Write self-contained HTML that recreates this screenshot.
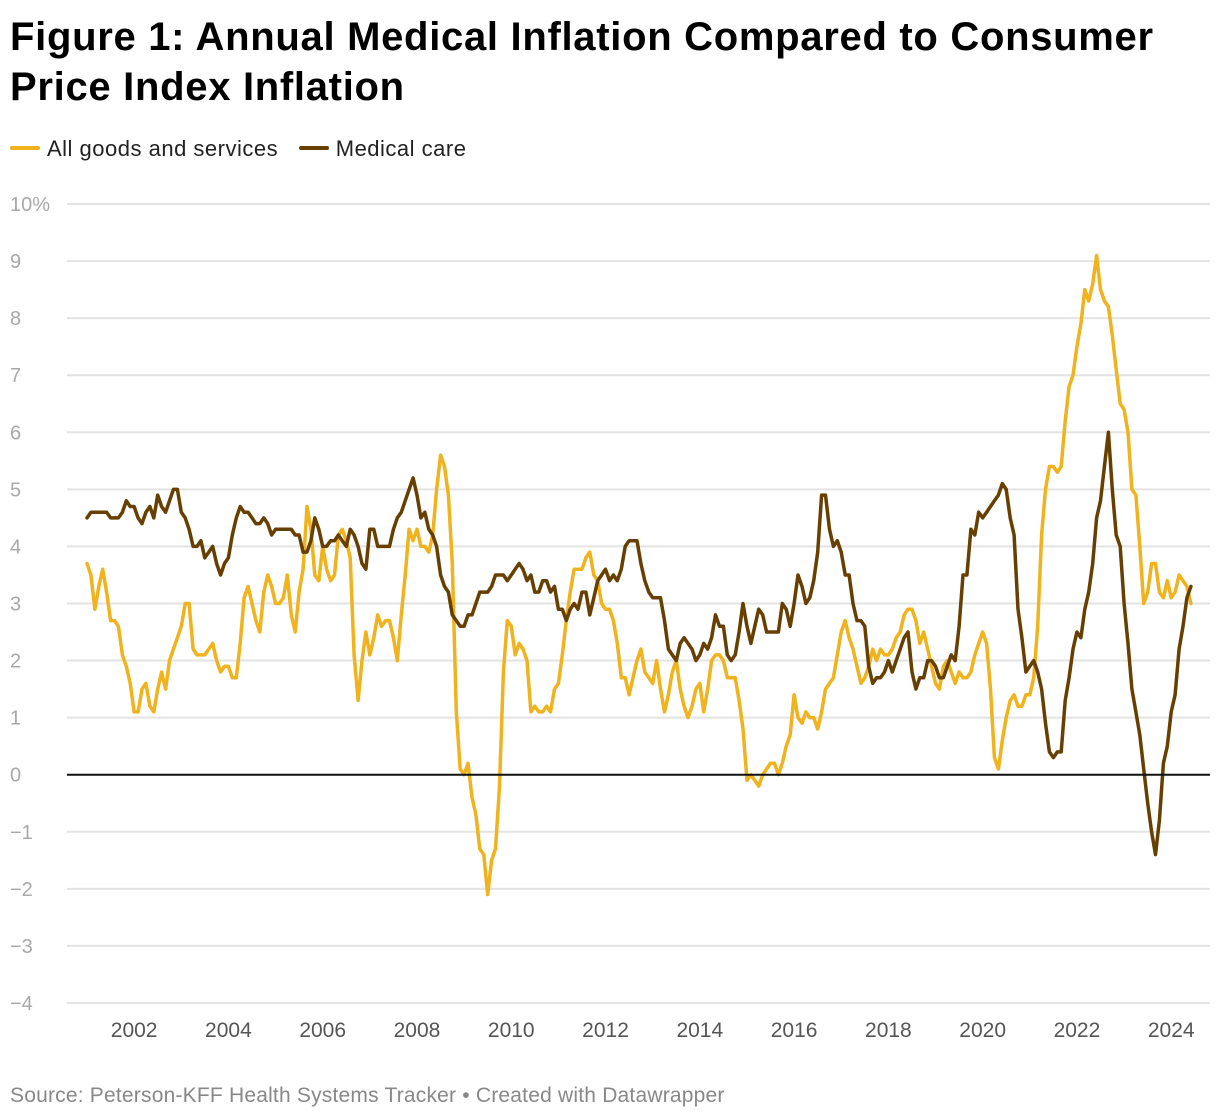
<!DOCTYPE html>
<html><head><meta charset="utf-8"><style>
body{margin:0;background:#fff;width:1220px;height:1120px;overflow:hidden;font-family:"Liberation Sans",sans-serif;}
#title{position:absolute;left:10px;top:12px;width:1180px;font-size:40px;font-weight:bold;line-height:50px;color:#000;letter-spacing:0.7px;}
#legend{position:absolute;left:10px;top:136px;font-size:22px;color:#222;letter-spacing:0.5px;}
.le{display:inline-block;margin-right:14px;}
.sw{display:inline-block;width:30px;height:4px;border-radius:2px;vertical-align:middle;margin-right:7px;position:relative;top:-2px;}
#source{position:absolute;left:10px;top:1084px;font-size:21px;color:#888;letter-spacing:0.2px;}
svg{position:absolute;left:0;top:0;}
</style></head><body>
<div id="title">Figure 1: Annual Medical Inflation Compared to Consumer Price Index Inflation</div>
<div id="legend">
<span class="le"><span class="sw" style="background:#f0b31d"></span>All goods and services</span>
<span class="le"><span class="sw" style="background:#673f00"></span>Medical care</span>
</div>
<svg id="chart" width="1220" height="1120"></svg>
<div id="source">Source: Peterson-KFF Health Systems Tracker • Created with Datawrapper</div>
<script>
const startYear = 2001;
const yTicks = [-4,-3,-2,-1,0,1,2,3,4,5,6,7,8,9,10];
const xTicks = [2002,2004,2006,2008,2010,2012,2014,2016,2018,2020,2022,2024];
const allGoods = [
3.7,3.5,2.9,3.3,3.6,3.2,2.7,2.7,2.6,2.1,1.9,1.6,
1.1,1.1,1.5,1.6,1.2,1.1,1.5,1.8,1.5,2.0,2.2,2.4,
2.6,3.0,3.0,2.2,2.1,2.1,2.1,2.2,2.3,2.0,1.8,1.9,
1.9,1.7,1.7,2.3,3.1,3.3,3.0,2.7,2.5,3.2,3.5,3.3,
3.0,3.0,3.1,3.5,2.8,2.5,3.2,3.6,4.7,4.3,3.5,3.4,
4.0,3.6,3.4,3.5,4.2,4.3,4.1,3.8,2.1,1.3,2.0,2.5,
2.1,2.4,2.8,2.6,2.7,2.7,2.4,2.0,2.8,3.5,4.3,4.1,
4.3,4.0,4.0,3.9,4.2,5.0,5.6,5.4,4.9,3.7,1.1,0.1,
0.0,0.2,-0.4,-0.7,-1.3,-1.4,-2.1,-1.5,-1.3,-0.2,1.8,2.7,
2.6,2.1,2.3,2.2,2.0,1.1,1.2,1.1,1.1,1.2,1.1,1.5,
1.6,2.1,2.7,3.2,3.6,3.6,3.6,3.8,3.9,3.5,3.4,3.0,
2.9,2.9,2.7,2.3,1.7,1.7,1.4,1.7,2.0,2.2,1.8,1.7,
1.6,2.0,1.5,1.1,1.4,1.8,2.0,1.5,1.2,1.0,1.2,1.5,
1.6,1.1,1.5,2.0,2.1,2.1,2.0,1.7,1.7,1.7,1.3,0.8,
-0.1,0.0,-0.1,-0.2,0.0,0.1,0.2,0.2,0.0,0.2,0.5,0.7,
1.4,1.0,0.9,1.1,1.0,1.0,0.8,1.1,1.5,1.6,1.7,2.1,
2.5,2.7,2.4,2.2,1.9,1.6,1.7,1.9,2.2,2.0,2.2,2.1,
2.1,2.2,2.4,2.5,2.8,2.9,2.9,2.7,2.3,2.5,2.2,1.9,
1.6,1.5,1.9,2.0,1.8,1.6,1.8,1.7,1.7,1.8,2.1,2.3,
2.5,2.3,1.5,0.3,0.1,0.6,1.0,1.3,1.4,1.2,1.2,1.4,
1.4,1.7,2.6,4.2,5.0,5.4,5.4,5.3,5.4,6.2,6.8,7.0,
7.5,7.9,8.5,8.3,8.6,9.1,8.5,8.3,8.2,7.7,7.1,6.5,
6.4,6.0,5.0,4.9,4.0,3.0,3.2,3.7,3.7,3.2,3.1,3.4,
3.1,3.2,3.5,3.4,3.3,3.0];
const medical = [
4.5,4.6,4.6,4.6,4.6,4.6,4.5,4.5,4.5,4.6,4.8,4.7,
4.7,4.5,4.4,4.6,4.7,4.5,4.9,4.7,4.6,4.8,5.0,5.0,
4.6,4.5,4.3,4.0,4.0,4.1,3.8,3.9,4.0,3.7,3.5,3.7,
3.8,4.2,4.5,4.7,4.6,4.6,4.5,4.4,4.4,4.5,4.4,4.2,
4.3,4.3,4.3,4.3,4.3,4.2,4.2,3.9,3.9,4.1,4.5,4.3,
4.0,4.0,4.1,4.1,4.2,4.1,4.0,4.3,4.2,4.0,3.7,3.6,
4.3,4.3,4.0,4.0,4.0,4.0,4.3,4.5,4.6,4.8,5.0,5.2,
4.9,4.5,4.6,4.3,4.2,4.0,3.5,3.3,3.2,2.8,2.7,2.6,
2.6,2.8,2.8,3.0,3.2,3.2,3.2,3.3,3.5,3.5,3.5,3.4,
3.5,3.6,3.7,3.6,3.4,3.5,3.2,3.2,3.4,3.4,3.2,3.3,
2.9,2.9,2.7,2.9,3.0,2.9,3.2,3.2,2.8,3.1,3.4,3.5,
3.6,3.4,3.5,3.4,3.6,4.0,4.1,4.1,4.1,3.7,3.4,3.2,
3.1,3.1,3.1,2.7,2.2,2.1,2.0,2.3,2.4,2.3,2.2,2.0,
2.1,2.3,2.2,2.4,2.8,2.6,2.6,2.1,2.0,2.1,2.5,3.0,
2.6,2.3,2.6,2.9,2.8,2.5,2.5,2.5,2.5,3.0,2.9,2.6,
3.0,3.5,3.3,3.0,3.1,3.4,3.9,4.9,4.9,4.3,4.0,4.1,
3.9,3.5,3.5,3.0,2.7,2.7,2.6,1.9,1.6,1.7,1.7,1.8,
2.0,1.8,2.0,2.2,2.4,2.5,1.8,1.5,1.7,1.7,2.0,2.0,
1.9,1.7,1.7,1.9,2.1,2.0,2.6,3.5,3.5,4.3,4.2,4.6,
4.5,4.6,4.7,4.8,4.9,5.1,5.0,4.5,4.2,2.9,2.4,1.8,
1.9,2.0,1.8,1.5,0.9,0.4,0.3,0.4,0.4,1.3,1.7,2.2,
2.5,2.4,2.9,3.2,3.7,4.5,4.8,5.4,6.0,5.0,4.2,4.0,
3.0,2.3,1.5,1.1,0.7,0.1,-0.5,-1.0,-1.4,-0.8,0.2,0.5,
1.1,1.4,2.2,2.6,3.1,3.3];

const NS='http://www.w3.org/2000/svg';
const svg=document.getElementById('chart');
const X0=87, PX_PER_YEAR=47.14, Y0=774.7, PX_PER_UNIT=57.07;
function xYear(y){return X0+(y-startYear)*PX_PER_YEAR;}
function xIdx(i){return xYear(startYear+i/12);}
function yVal(v){return Y0-v*PX_PER_UNIT;}
function mk(tag,attrs){const e=document.createElementNS(NS,tag);for(const k in attrs)e.setAttribute(k,attrs[k]);svg.appendChild(e);return e;}

yTicks.forEach(t=>{
  const y=yVal(t);
  if(t!==0){
    const g=mk('line',{x1:67,x2:1210,y1:y,y2:y,stroke:'#e3e3e3','stroke-width':2});
    
    
  }
  const tx=mk('text',{x:10,y:y+7,fill:'#a8a8a8','font-size':20,'font-family':'Liberation Sans, sans-serif'});
  tx.textContent = t===10 ? '10%' : (t<0 ? '\u2212'+(-t) : String(t));
  
  
});
xTicks.forEach(t=>{
  const tx=mk('text',{x:xYear(t),y:1037,fill:'#555','font-size':21,'text-anchor':'middle','font-family':'Liberation Sans, sans-serif'});
  tx.textContent=String(t);
  
  
});
function series(vals,color,name){
  const d=vals.map((v,i)=>(i?'L':'M')+xIdx(i).toFixed(1)+','+yVal(v).toFixed(1)).join('');
  const p=mk('path',{d:d,fill:'none',stroke:color,'stroke-width':3.5,'stroke-linejoin':'round','stroke-linecap':'round'});
  
  
}
series(allGoods,'#f0b31d','line-all-goods');
series(medical,'#673f00','line-medical-care');
const z=mk('line',{x1:67,x2:1210,y1:Y0,y2:Y0,stroke:'#111','stroke-width':2});


</script>
</body></html>
